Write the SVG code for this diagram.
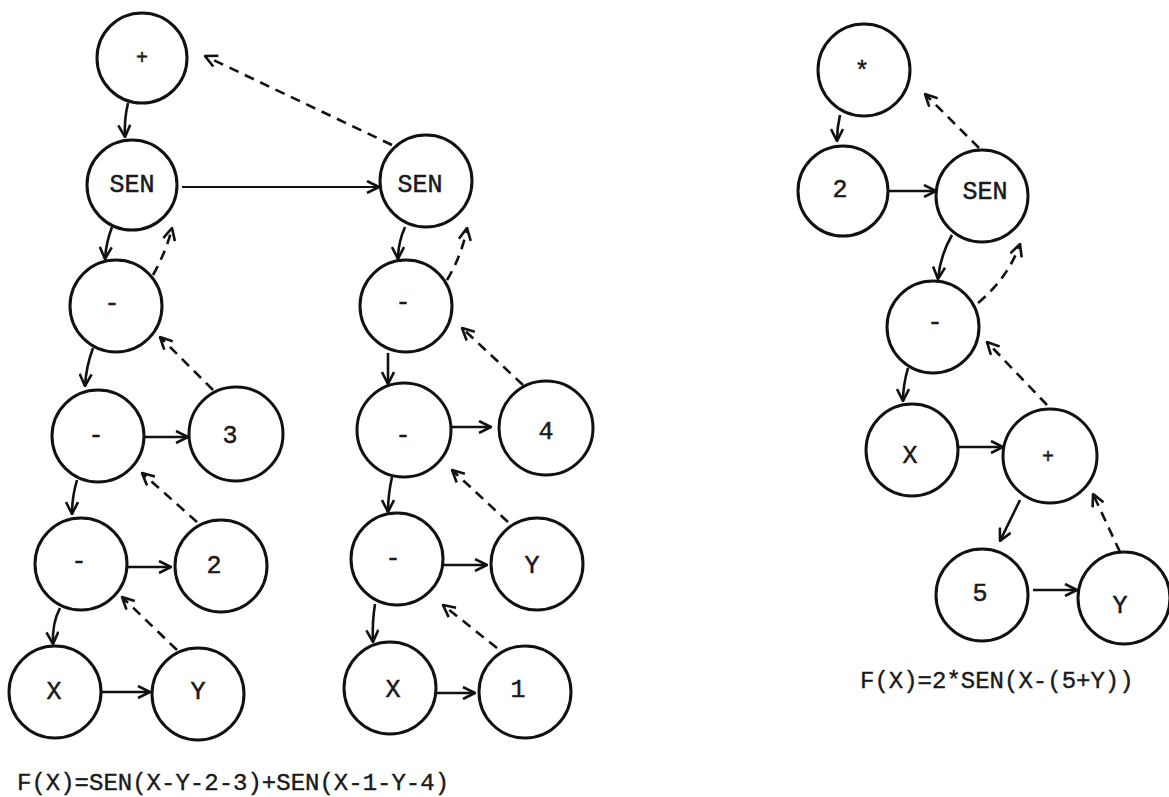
<svg xmlns="http://www.w3.org/2000/svg" width="1169" height="797" viewBox="0 0 1169 797">
<style>
.node circle{fill:#fff;stroke:#111;stroke-width:3}
.node text{font-family:"Liberation Mono","DejaVu Sans Mono",monospace;font-size:25px;fill:#1a1a1a;stroke:#1a1a1a;stroke-width:0.5;text-anchor:middle;dominant-baseline:central}
.s{fill:none;stroke:#111;stroke-width:2.6;marker-end:url(#ah)}
.d{fill:none;stroke:#111;stroke-width:2.6;stroke-dasharray:10 7;marker-end:url(#ah)}
.cap{font-family:"Liberation Mono","DejaVu Sans Mono",monospace;font-size:24px;fill:#1a1a1a;stroke:#1a1a1a;stroke-width:0.4}
</style>
<defs>
<marker id="ah" markerUnits="userSpaceOnUse" viewBox="0 0 14 14" refX="13" refY="7" markerWidth="14" markerHeight="14" orient="auto">
<path d="M1,1 L13,7 L1,13" fill="none" stroke="#111" stroke-width="2.6" stroke-dasharray="none"/>
</marker>
</defs>
<rect width="1169" height="797" fill="#fff"/>
<g id="connectors">
<!-- left tree -->
<path class="s" d="M128,103 Q124,120 125,137"/>
<path class="s" style="stroke-width:1.9" d="M182,187 L379,187"/>
<path class="d" d="M392,145 L205,56"/>
<path class="s" d="M112,227 Q106,243 105,259"/>
<path class="d" d="M153,275 Q166,252 172,228"/>
<path class="s" d="M93,348 Q86,367 85,386"/>
<path class="d" d="M213,390 L160,337"/>
<path class="s" d="M144,437 L188,437"/>
<path class="s" d="M77,480 Q72,497 72,514"/>
<path class="d" d="M197,522 L142,473"/>
<path class="s" d="M127,567 L171,567"/>
<path class="s" d="M60,608 Q52,623 53,644"/>
<path class="d" d="M177,650 L122,597"/>
<path class="s" d="M102,692 L150,692"/>
<!-- middle tree -->
<path class="s" d="M405,227 Q398,243 398,259"/>
<path class="d" d="M447,280 Q462,255 467,228"/>
<path class="s" d="M388,353 L388,384"/>
<path class="d" d="M523,385 L462,328"/>
<path class="s" d="M451,427 L491,427"/>
<path class="s" d="M392,477 Q388,495 388,512"/>
<path class="d" d="M508,522 L452,470"/>
<path class="s" d="M444,565 L487,565"/>
<path class="s" d="M375,604 Q372,623 373,642"/>
<path class="d" d="M497,648 L443,605"/>
<path class="s" d="M435,693 L475,693"/>
<!-- right tree -->
<path class="s" d="M840,115 Q837,128 837,141"/>
<path class="s" d="M889,191 L936,191"/>
<path class="d" d="M979,148 L925,94"/>
<path class="s" d="M952,235 Q940,256 938,279"/>
<path class="d" d="M978,303 Q1008,278 1020,244"/>
<path class="s" d="M908,368 Q903,385 903,401"/>
<path class="d" d="M1047,405 L987,342"/>
<path class="s" d="M958,447 L1003,447"/>
<path class="s" d="M1020,500 L1000,541"/>
<path class="d" d="M1120,552 L1093,494"/>
<path class="s" d="M1033,590 L1077,590"/>
</g>
<g id="n_plus" class="node"><circle cx="142" cy="58" r="45"/><text x="142" y="58" style="font-size:20px">+</text></g>
<g id="n_sen1" class="node"><circle cx="132" cy="185" r="45"/><text x="132" y="185">SEN</text></g>
<g id="n_m1" class="node"><circle cx="116" cy="306" r="46"/><text x="112" y="304">-</text></g>
<g id="n_m2" class="node"><circle cx="98" cy="436" r="46"/><text x="96" y="436">-</text></g>
<g id="n_3" class="node"><circle cx="236" cy="434" r="47"/><text x="230" y="436">3</text></g>
<g id="n_m3" class="node"><circle cx="81" cy="564" r="46"/><text x="79" y="562">-</text></g>
<g id="n_2" class="node"><circle cx="221" cy="566" r="46"/><text x="214" y="566">2</text></g>
<g id="n_x1" class="node"><circle cx="55" cy="692" r="46"/><text x="54" y="692">X</text></g>
<g id="n_y1" class="node"><circle cx="198" cy="694" r="46"/><text x="198" y="692">Y</text></g>
<g id="n_sen2" class="node"><circle cx="426" cy="181" r="46"/><text x="420" y="185">SEN</text></g>
<g id="n_m4" class="node"><circle cx="406" cy="306" r="46"/><text x="403" y="303">-</text></g>
<g id="n_m5" class="node"><circle cx="404" cy="430" r="47"/><text x="403" y="436">-</text></g>
<g id="n_4" class="node"><circle cx="546" cy="428" r="47"/><text x="546" y="432">4</text></g>
<g id="n_m6" class="node"><circle cx="397" cy="559" r="46"/><text x="393" y="559">-</text></g>
<g id="n_y2" class="node"><circle cx="537" cy="564" r="46"/><text x="532" y="566">Y</text></g>
<g id="n_x2" class="node"><circle cx="390" cy="688" r="46"/><text x="393" y="690">X</text></g>
<g id="n_1" class="node"><circle cx="525" cy="692" r="46"/><text x="518" y="690">1</text></g>
<g id="n_star" class="node"><circle cx="864" cy="70" r="46"/><text x="862" y="72">*</text></g>
<g id="n_2b" class="node"><circle cx="843" cy="191" r="45"/><text x="840" y="190">2</text></g>
<g id="n_sen3" class="node"><circle cx="982" cy="196" r="46"/><text x="985" y="192">SEN</text></g>
<g id="n_m7" class="node"><circle cx="933" cy="327" r="46"/><text x="935" y="323">-</text></g>
<g id="n_x3" class="node"><circle cx="912" cy="450" r="46"/><text x="910" y="456">X</text></g>
<g id="n_plus2" class="node"><circle cx="1050" cy="456" r="47"/><text x="1048" y="457" style="font-size:20px">+</text></g>
<g id="n_5" class="node"><circle cx="982" cy="595" r="46"/><text x="980" y="594">5</text></g>
<g id="n_y3" class="node"><circle cx="1124" cy="598" r="46"/><text x="1120" y="606">Y</text></g>
<text class="cap" x="17" y="790">F(X)=SEN(X-Y-2-3)+SEN(X-1-Y-4)</text>
<text class="cap" x="860" y="688">F(X)=2*SEN(X-(5+Y))</text>
</svg>
